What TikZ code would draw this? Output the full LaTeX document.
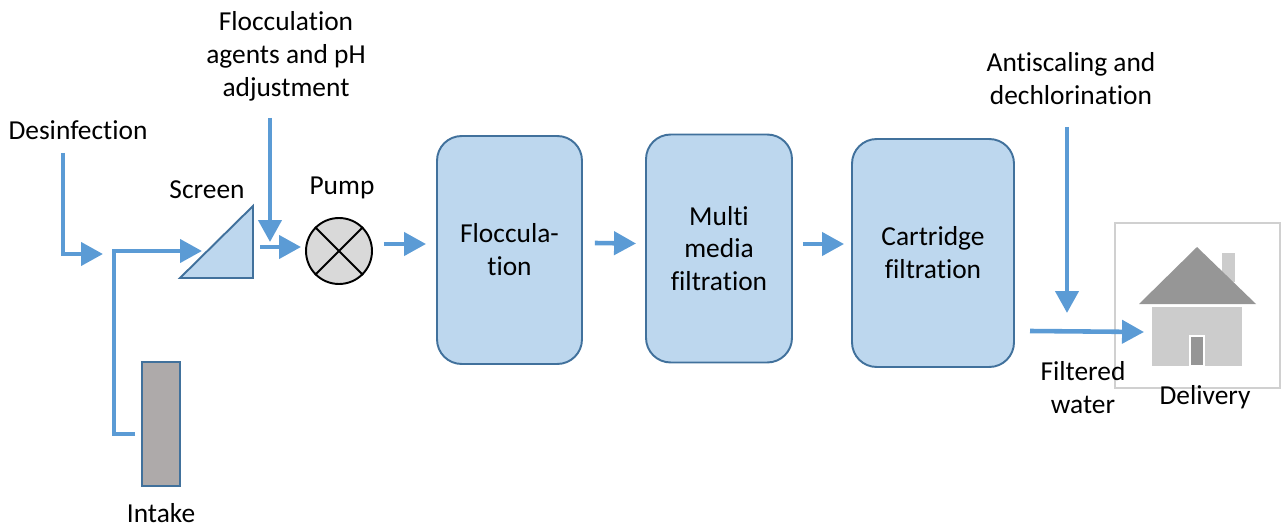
\documentclass[tikz,border=0pt]{standalone}
\usepackage{fontspec}
\setmainfont[Ligatures=NoCommon]{Carlito}
\usepackage{tikz}
\usetikzlibrary{arrows.meta,calc}
\definecolor{flow}{HTML}{5B9BD5}
\definecolor{stagefill}{HTML}{BDD7EE}
\definecolor{stageedge}{HTML}{41719C}
\definecolor{pumpfill}{HTML}{D9D9D9}
\definecolor{tankfill}{HTML}{AEAAAA}
\definecolor{roofgray}{HTML}{969696}
\definecolor{wallgray}{HTML}{CCCCCC}
\definecolor{framegray}{HTML}{D0D0D0}
\tikzset{
  pipe/.style={draw=flow, line width=2.6pt, -{Triangle[length=12.5pt,width=13pt]}},
  stage/.style={draw=stageedge, fill=stagefill, line width=1.1pt, rounded corners=14pt,
    minimum height=4.56cm, align=center, inner sep=0pt, font=\fontsize{15.6}{18.7}\selectfont},
  pumpc/.style={circle, draw=black, fill=pumpfill, line width=1.1pt, minimum size=1.32cm, inner sep=0pt},
  tank/.style={draw=stageedge, fill=tankfill, line width=1.1pt, minimum width=0.76cm,
    minimum height=2.48cm, inner sep=0pt},
  sieve/.style={draw=stageedge, fill=stagefill, line width=1.1pt},
  lab/.style={font=\fontsize{15.6}{18.7}\selectfont, align=center, text=black}
}
\begin{document}
\begin{tikzpicture}[x=0.02cm,y=-0.02cm]
  \useasboundingbox (0,0) rectangle (1285,527);

  % stages, pump and intake
  \node[stage, minimum width=2.9cm] (floc) at (509.5,250) {Floccula-\\tion};
  \node[stage, minimum width=2.92cm] (multi) at (719,248.5) {Multi\\media\\filtration};
  \node[stage, minimum width=3.24cm] (cart) at (933,253) {Cartridge\\filtration};
  \node[pumpc] (pump) at (339,251) {};
  \draw[line width=1.1pt] (pump.45) -- (pump.225) (pump.135) -- (pump.315);
  \node[tank] (intake) at (161,424) {};

  \coordinate (S1) at (180,278);
  \coordinate (S2) at (253,278);
  \coordinate (S3) at (253,206); % screen corners
  \draw[sieve] (S1) -- (S2) -- (S3) -- cycle;

  % house
  \draw[framegray, line width=0.6pt] (1115,223) rectangle (1280,388);
  \fill[wallgray] (1222,253) rectangle (1235,282);
  \fill[roofgray] (1139,304) -- (1197,247) -- (1256,304) -- cycle;
  \fill[wallgray] (1152,307) rectangle (1242,366);
  \draw[white, fill=roofgray, line width=0.8pt] (1190,336) rectangle (1204,366);

  % labels
  \node[lab] (desinf) at (78,130) {Desinfection};
  \node[lab] (agents) at (286,56) {Flocculation\\agents and pH\\adjustment};
  \node[lab] (screen) at (207,190) {Screen};
  \node[lab] (pumplab) at (342,188) {Pump};
  \node[lab] (intakelab) at (161,513) {Intake};
  \node[lab] (anti) at (1071,78.5) {Antiscaling and\\dechlorination};
  \node[lab] (filtered) at (1083,388) {Filtered\\water};
  \node[lab] (deliv) at (1205,397) {Delivery};

  % free ends of the pipes
  \coordinate (dtop) at (63,153);
  \coordinate (dend) at (103,254);
  \coordinate (jn) at (114,251);
  \coordinate (scin) at (202,251);
  \coordinate (atop) at (270,118);
  \coordinate (aend) at (270,242);
  \coordinate (pin) at (260,247);
  \coordinate (ctop) at (1067,127);
  \coordinate (cend) at (1067,313);
  \coordinate (hin) at (1030,331);
  \coordinate (home) at (1144,332);

  % flow
  \draw[pipe] (dtop) |- (dend);
  \draw[pipe] ($(intake.west)+(-6,10)$) -| (jn) -- (scin);
  \draw[pipe] (atop) -- (aend);
  \draw[pipe] (pin) -- ($(pump.west)+(-4,-4)$);
  \draw[pipe] ($(pump.east)+(11,-7)$) -- ($(floc.west)+(-10,-6)$);
  \draw[pipe] ($(floc.east)+(12,-7)$) -- ($(multi.west)+(-9,-5)$);
  \draw[pipe] ($(multi.east)+(10,-4.5)$) -- ($(cart.west)+(-7,-9)$);
  \draw[pipe] (ctop) -- (cend);
  \draw[pipe] (hin) -- (home);
\end{tikzpicture}
\end{document}
